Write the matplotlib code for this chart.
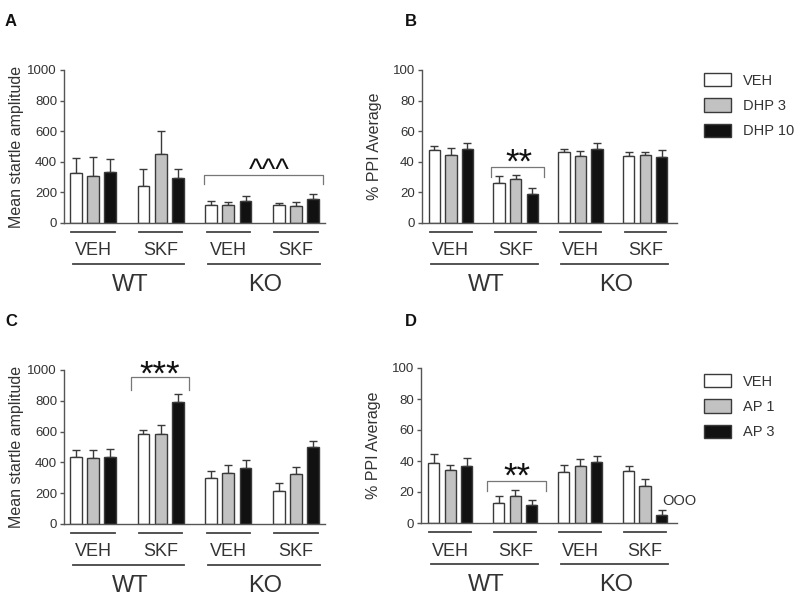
import matplotlib
matplotlib.use("Agg")
import matplotlib.pyplot as plt
import numpy as np
from matplotlib.transforms import offset_copy

plt.rcParams['font.family'] = ['Liberation Sans', 'DejaVu Sans']

groups = ["VEH", "SKF", "VEH", "SKF"]
genotypes = ["WT", "KO"]

# Panel A: mean startle amplitude (DHP)
a_veh = [330, 245, 115, 115]
a_dhp3 = [305, 450, 120, 110]
a_dhp10 = [335, 295, 145, 160]
a_veh_err = [95, 105, 30, 15]
a_dhp3_err = [125, 150, 20, 25]
a_dhp10_err = [85, 55, 30, 30]

# Panel B: % PPI (DHP)
b_veh = [47.5, 26, 46.5, 43.5]
b_dhp3 = [44.5, 28.5, 43.5, 44.2]
b_dhp10 = [48, 18.5, 48, 42.8]
b_veh_err = [3, 4.5, 2, 2.6]
b_dhp3_err = [4.3, 2.5, 3.5, 1.8]
b_dhp10_err = [4.5, 4.5, 4.3, 4.5]

# Panel C: mean startle amplitude (AP)
c_veh = [434, 583, 301, 217]
c_ap1 = [427, 583, 334, 325]
c_ap3 = [438, 793, 366, 503]
c_veh_err = [47, 28, 46, 48]
c_ap1_err = [54, 62, 46, 48]
c_ap3_err = [50, 50, 50, 37]

# Panel D: % PPI (AP)
d_veh = [39, 12.9, 32.9, 33.3]
d_ap1 = [34, 17.2, 36.6, 23.7]
d_ap3 = [37, 11.4, 39.4, 5]
d_veh_err = [5.7, 4.3, 4.3, 3.3]
d_ap1_err = [3.2, 3.8, 4.7, 4.7]
d_ap3_err = [4.7, 3.2, 4.0, 3.2]

legend_dhp = ["VEH", "DHP 3", "DHP 10"]
legend_ap = ["VEH", "AP 1", "AP 3"]

fills = ["white", "#c2c2c2", "#111111"]
edge = "#3a3a3a"
axcol = "#555555"
txtcol = "#333333"

W, H = 800, 607
fig = plt.figure(figsize=(W / 100, H / 100), dpi=100)


def make_ax(left, top, right, bottom):
    return fig.add_axes([left / W, 1 - bottom / H, (right - left) / W, (bottom - top) / H])


def panel(ax, series, errs, ymax, yticks, xlim, ylabel, labels, legend_pos=None):
    x = np.arange(4)
    off = 0.255
    width = 0.175
    handles = []
    for i, (vals, er) in enumerate(zip(series, errs)):
        xs = x + (i - 1) * off
        b = ax.bar(xs, vals, width=width, color=fills[i], edgecolor=edge, linewidth=1.0, zorder=2)
        handles.append(b)
        ax.errorbar(xs, vals, yerr=[np.zeros(4), er], fmt='none', ecolor=edge,
                    elinewidth=1.0, capsize=3, capthick=1.0, zorder=1)
    ax.set_xlim(*xlim)
    ax.set_ylim(0, ymax)
    ax.set_yticks(yticks)
    ax.set_xticks([])
    for s in ['top', 'right']:
        ax.spines[s].set_visible(False)
    for s in ['left', 'bottom']:
        ax.spines[s].set_color(axcol)
        ax.spines[s].set_linewidth(1.0)
    ax.tick_params(axis='y', length=3, width=1, color=axcol, labelsize=9.5, labelcolor=txtcol, pad=2)
    ax.set_ylabel(ylabel, fontsize=11.5, color=txtcol)
    ax.yaxis.set_label_coords(-40.0 / (ax.get_position().width * W), 0.5)
    ax.patch.set_alpha(0)

    # group lines and labels
    t1 = offset_copy(ax.get_xaxis_transform(), fig=fig, y=-9, units='dots')
    t2 = offset_copy(ax.get_xaxis_transform(), fig=fig, y=-28, units='dots')
    t3 = offset_copy(ax.get_xaxis_transform(), fig=fig, y=-41, units='dots')
    t4 = offset_copy(ax.get_xaxis_transform(), fig=fig, y=-62, units='dots')
    for i, g in enumerate(groups):
        ax.plot([i - 0.32, i + 0.32], [0, 0], transform=t1, color="#444", lw=1.3, clip_on=False)
        ax.text(i, 0, g, transform=t2, ha='center', va='center', fontsize=13, color=txtcol)
    for j, gt in enumerate(genotypes):
        c0 = 2 * j
        ax.plot([c0 - 0.3, c0 + 1.35], [0, 0], transform=t3, color="#444", lw=1.3, clip_on=False)
        ax.text(c0 + 0.55, 0, gt, transform=t4, ha='center', va='center', fontsize=17, color=txtcol)
    if legend_pos is not None:
        ax.legend(handles, labels, loc='upper left', bbox_to_anchor=(legend_pos[0] / W, 1 - legend_pos[1] / H),
                  bbox_transform=fig.transFigure, frameon=False, fontsize=10.5,
                  handlelength=1.85, handleheight=1.0, handletextpad=0.85, labelspacing=0.75,
                  borderpad=0, borderaxespad=0, labelcolor=txtcol)
    return ax


def bracket(ax, x0, x1, ytop, ybot, txt, xtxt, ytxt, fs):
    ax.plot([x0, x0, x1, x1], [ybot, ytop, ytop, ybot], color="#777", lw=0.9, clip_on=False, zorder=3)
    ax.text(xtxt, ytxt, txt, ha='center', va='baseline', fontsize=fs, color="#111", clip_on=False)


axA = make_ax(64, 70, 325, 223)
panel(axA, [a_veh, a_dhp3, a_dhp10], [a_veh_err, a_dhp3_err, a_dhp10_err], 1000,
      [0, 200, 400, 600, 800, 1000], (-0.43, 3.43), "Mean startle amplitude", legend_dhp)
bracket(axA, 1.64, 3.40, 314, 255, "^^^", 2.61, 285, 21)

axB = make_ax(421.7, 70, 677, 222.7)
panel(axB, [b_veh, b_dhp3, b_dhp10], [b_veh_err, b_dhp3_err, b_dhp10_err], 100,
      [0, 20, 40, 60, 80, 100], (-0.45, 3.49), "% PPI Average", legend_dhp, legend_pos=(704, 73))
bracket(axB, 0.62, 1.44, 36.4, 30, "**", 1.05, 33.0, 25)

axC = make_ax(64, 370, 325, 524)
panel(axC, [c_veh, c_ap1, c_ap3], [c_veh_err, c_ap1_err, c_ap3_err], 1000,
      [0, 200, 400, 600, 800, 1000], (-0.43, 3.43), "Mean startle amplitude", legend_ap)
bracket(axC, 0.56, 1.42, 955, 870, "***", 0.99, 905, 25)

axD = make_ax(421, 368, 677, 523)
panel(axD, [d_veh, d_ap1, d_ap3], [d_veh_err, d_ap1_err, d_ap3_err], 100,
      [0, 20, 40, 60, 80, 100], (-0.45, 3.49), "% PPI Average", legend_ap, legend_pos=(704, 374))
bracket(axD, 0.57, 1.48, 27, 20.4, "**", 1.02, 23.5, 25)
axD.text(3.26, 14.2, "OOO", ha='left', va='center', fontsize=10.5, color=txtcol)

for lbl, (px, py) in zip("ABCD", [(5, 21), (405, 21), (5, 322), (405, 322)]):
    fig.text(px / W, 1 - py / H, lbl, fontsize=12, fontweight='bold', color="#111", ha='left', va='center')

fig.savefig("out.png", dpi=100)
